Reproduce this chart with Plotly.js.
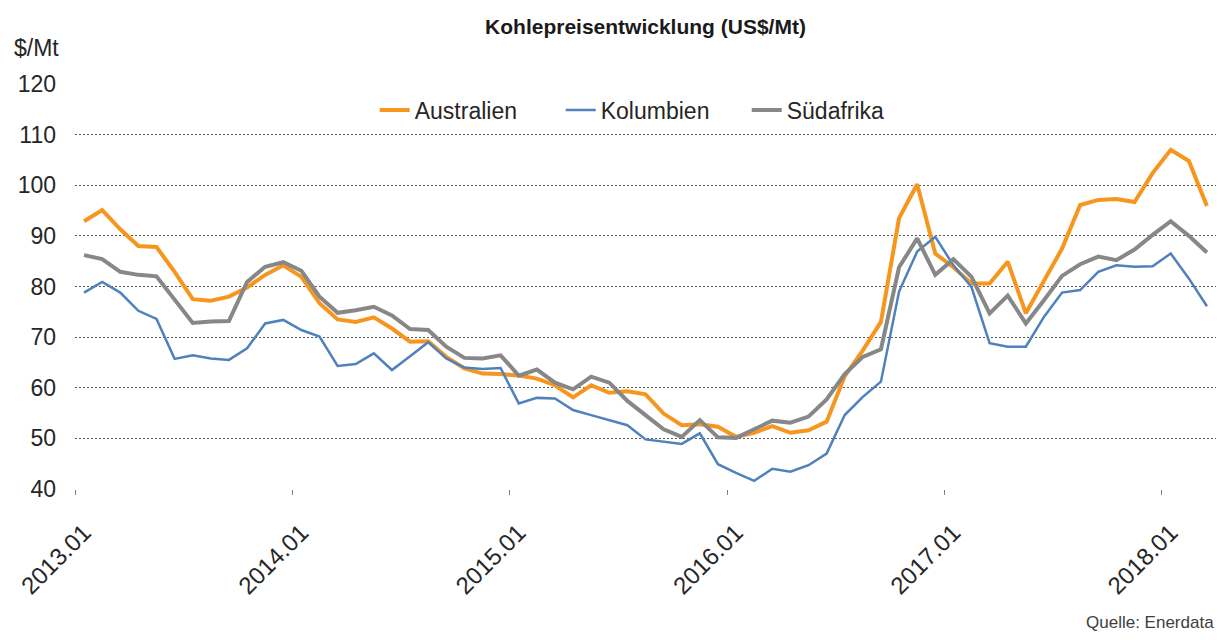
<!DOCTYPE html>
<html>
<head>
<meta charset="utf-8">
<script src="https://cdn.plot.ly/plotly-3.0.1.min.js"></script>
<style>html,body{margin:0;padding:0;background:#fff;}#chart{width:1218px;height:640px;}</style>
</head>
<body>
<div id="chart"></div>
<script>
const months = [
  "2013.01","2013.02","2013.03","2013.04","2013.05","2013.06","2013.07","2013.08","2013.09","2013.10","2013.11","2013.12",
  "2014.01","2014.02","2014.03","2014.04","2014.05","2014.06","2014.07","2014.08","2014.09","2014.10","2014.11","2014.12",
  "2015.01","2015.02","2015.03","2015.04","2015.05","2015.06","2015.07","2015.08","2015.09","2015.10","2015.11","2015.12",
  "2016.01","2016.02","2016.03","2016.04","2016.05","2016.06","2016.07","2016.08","2016.09","2016.10","2016.11","2016.12",
  "2017.01","2017.02","2017.03","2017.04","2017.05","2017.06","2017.07","2017.08","2017.09","2017.10","2017.11","2017.12",
  "2018.01","2018.02","2018.03"
];
const yearTicks = ["2013.01","2014.01","2015.01","2016.01","2017.01","2018.01"];

const australien = [
  92.9,95.1,91.3,88.0,87.8,82.9,77.5,77.2,78.0,79.8,82.3,84.2,
  81.9,76.7,73.5,73.0,73.9,71.7,69.1,69.2,66.1,63.8,62.8,62.7,
  62.4,61.8,60.5,58.1,60.5,59.0,59.3,58.7,54.9,52.6,52.8,52.3,
  50.3,51.1,52.4,51.1,51.6,53.3,62.3,67.4,73.0,93.5,100.2,86.5,
  83.8,80.6,80.6,84.9,74.7,81.2,87.5,96.1,97.1,97.3,96.7,102.4,
  107.0,104.8,95.9
];
const kolumbien = [
  78.8,80.9,78.8,75.2,73.6,65.7,66.4,65.8,65.5,67.8,72.7,73.4,
  71.4,70.1,64.3,64.7,66.8,63.5,66.2,69.0,65.8,64.0,63.7,63.9,
  56.9,58.0,57.9,55.6,54.6,53.6,52.6,49.8,49.3,48.9,51.0,44.9,
  43.2,41.6,44.0,43.4,44.7,47.0,54.6,58.2,61.2,79.0,86.9,89.8,
  84.2,79.9,68.8,68.1,68.1,74.0,78.8,79.3,82.9,84.2,83.9,84.0,
  86.5,81.6,76.1
];
const suedafrika = [
  86.2,85.4,82.9,82.3,82.0,77.5,72.8,73.1,73.2,80.9,83.9,84.8,
  83.1,78.0,74.8,75.3,76.0,74.3,71.6,71.4,68.1,65.9,65.8,66.4,
  62.4,63.6,61.0,59.7,62.2,61.0,57.4,54.6,51.8,50.3,53.6,50.2,
  50.1,51.8,53.5,53.1,54.3,57.7,62.7,66.1,67.6,83.8,89.5,82.3,
  85.4,81.9,74.7,78.2,72.7,77.3,82.1,84.4,85.9,85.2,87.3,90.2,
  92.9,90.0,86.7
];
const yTicks = [40,50,60,70,80,90,100,110,120];

const FONT = "Liberation Sans, Arial, sans-serif";

// tick marks sit on the boundaries between months (Excel "between tick marks")
const boundaryTicks = yearTicks.map(t => months.indexOf(t) - 0.5);

const traces = [
  {x: months, y: australien, name: "Australien", type: "scatter", mode: "lines",
   line: {color: "#F7961E", width: 4}},
  {x: months, y: kolumbien, name: "Kolumbien", type: "scatter", mode: "lines",
   line: {color: "#4F81BD", width: 2.5}},
  {x: months, y: suedafrika, name: "Südafrika", type: "scatter", mode: "lines",
   line: {color: "#878787", width: 4}},
  {x: [], y: [], xaxis: "x2", yaxis: "y", type: "scatter", mode: "lines",
   showlegend: false, hoverinfo: "skip"}
];

const layout = {
  width: 1218, height: 640,
  margin: {l: 75, r: 2, t: 84, b: 151},
  paper_bgcolor: "#ffffff", plot_bgcolor: "#ffffff",
  font: {family: FONT, size: 23, color: "#262626"},
  title: {
    text: "<b>Kohlepreisentwicklung (US$/Mt)</b>",
    font: {family: FONT, size: 21, color: "#1a1a1a"},
    x: 0.5, xref: "paper", xanchor: "center",
    y: 1 - 27/640, yref: "container", yanchor: "middle"
  },
  xaxis: {
    type: "category", categoryorder: "array", categoryarray: months,
    range: [-0.5, 62.5],
    tickmode: "array", tickvals: yearTicks, ticktext: yearTicks,
    ticks: "outside", ticklen: 5, tickcolor: "rgba(0,0,0,0)",
    ticklabelstandoff: 14,
    tickangle: -45,
    showgrid: false, showline: false, zeroline: false,
    tickfont: {family: FONT, size: 24, color: "#262626"}
  },
  xaxis2: {
    overlaying: "x", anchor: "y", side: "bottom",
    range: [-0.5, 62.5],
    tickmode: "array", tickvals: boundaryTicks,
    ticks: "outside", ticklen: 5, tickwidth: 1, tickcolor: "#7f7f7f",
    showticklabels: false, showgrid: false, showline: false, zeroline: false
  },
  yaxis: {
    range: [40, 120],
    tickmode: "array", tickvals: yTicks,
    showgrid: true, gridcolor: "#595959", gridwidth: 1, griddash: "2px,2px",
    zeroline: false, showline: false, ticks: "",
    ticklabelstandoff: 18,
    tickfont: {family: FONT, size: 23, color: "#262626"}
  },
  showlegend: true,
  legend: {
    orientation: "h", x: 0.2627, xanchor: "left", y: (489 - 110) / 405, yanchor: "middle",
    font: {family: FONT, size: 23, color: "#262626"},
    bgcolor: "rgba(255,255,255,0)", entrywidth: 141, entrywidthmode: "pixels",
    traceorder: "normal"
  },
  annotations: [
    {text: "$/Mt", xref: "paper", yref: "paper", x: -0.055, y: 1 + 36/405,
     xanchor: "left", yanchor: "middle", showarrow: false,
     font: {family: FONT, size: 23, color: "#262626"}},
    {text: "Quelle: Enerdata", xref: "paper", yref: "paper", x: 1, y: -(622 - 489) / 405,
     xanchor: "right", yanchor: "middle", showarrow: false,
     font: {family: FONT, size: 17, color: "#404040"}}
  ]
};

Plotly.newPlot("chart", traces, layout, {displayModeBar: false, staticPlot: true});
</script>
</body>
</html>
